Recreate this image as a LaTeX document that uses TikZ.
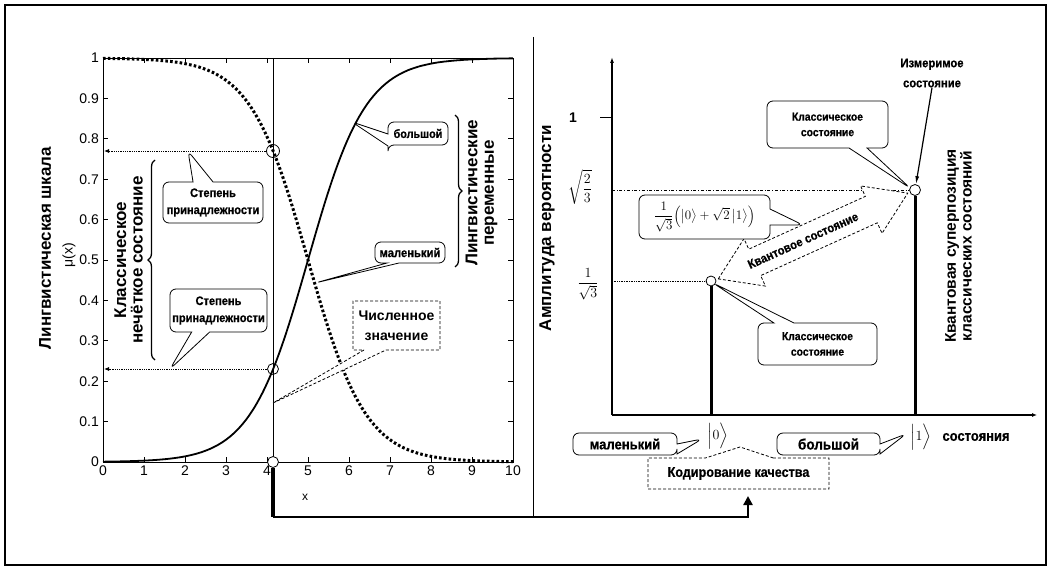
\RequirePackage{fix-cm}
\documentclass[tikz,border=0pt]{standalone}
\usepackage{amsmath}
\usepackage{fontspec}
\setmainfont{Liberation Serif}
\setsansfont{Liberation Sans}
\newfontfamily\narrowbold[FakeStretch=0.9,FakeBold=0.6]{Liberation Sans Bold}
\usetikzlibrary{shapes.callouts,decorations.pathreplacing,arrows.meta}
\begin{document}
\begin{tikzpicture}[x=1pt,y=-1pt,
  lbl/.style={font=\sffamily\fontsize{14}{14}\selectfont, inner sep=0pt},
  biglbl/.style={font=\sffamily\bfseries\fontsize{17}{16.5}\selectfont, align=center, inner sep=0pt},
  calltxt/.style={font=\narrowbold\fontsize{12.3}{17}\selectfont, align=center},
  callbox/.style={rectangle callout, draw, rounded corners=6pt, fill=white, calltxt, inner sep=0pt, line width=0.8pt},
  dcallbox/.style={rectangle callout, draw, dash pattern=on 3pt off 2pt, fill=white, calltxt, inner sep=0pt, line width=0.8pt},
  ptc/.style={circle, draw, inner sep=0pt, minimum size=11pt, line width=0.8pt},
  guide/.style={densely dotted, line width=0.8pt},
  frm/.style={line width=0.8pt},
  bar/.style={line width=3pt},
  axisline/.style={line width=1.8pt}
]
\useasboundingbox (0,0) rectangle (1051,567);
\draw[line width=2pt] (5,5) rectangle (1046,565);

% ---------------- left plot ----------------
\draw[frm] (103,58) rectangle (513,462);
\foreach \i in {0,...,10} {
  \draw[frm] ({103+41*\i},462) -- ++(0,-5);
  \draw[frm] ({103+41*\i},58) -- ++(0,5);
  \node[lbl, anchor=north] (xt\i) at ({103+41*\i},466) {\i};
}
\foreach \i/\t in {0/0,1/0.1,2/0.2,3/0.3,4/0.4,5/0.5,6/0.6,7/0.7,8/0.8,9/0.9,10/1} {
  \draw[frm] (103,{462-40.4*\i}) -- ++(5,0);
  \draw[frm] (513,{462-40.4*\i}) -- ++(-5,0);
  \node[lbl, anchor=east] (yt\i) at (99,{462-40.4*\i}) {\t};
}
\node[lbl, font=\sffamily\fontsize{12}{12}\selectfont] (xlab) at (305,497) {x};

\begin{scope}[shift={(103,462)}, x=41pt, y=404pt]
  \draw[line width=1.8pt] plot[domain=0:10, samples=150, smooth] (\x,{1/(1+exp(-1.42*(\x-5)))});
  \draw[line width=3pt, dash pattern=on 2.6pt off 2.2pt] plot[domain=0:10, samples=150, smooth] (\x,{1/(1+exp(1.42*(\x-5)))});
\end{scope}

\draw[line width=0.8pt] (273,58) -- (273,462);
\node[ptc, minimum width=9pt, minimum height=13pt] (c77) at (273,151) {};
\node[ptc] (c23) at (273,369) {};
\node[ptc, fill=white] (c0) at (273,462) {};
\coordinate (ax77) at (104,151);
\coordinate (ax23) at (104,369);
\draw[guide, -{Latex[length=5pt,width=4pt]}] (c77.west) -- (ax77);
\draw[guide, -{Latex[length=5pt,width=4pt]}] (c23.west) -- (ax23);

\node[biglbl, rotate=90] (yscale) at (45,248) {Лингвистическая шкала};
\node[lbl, rotate=90] (mu) at (69,255) {μ(x)};
\node[biglbl, rotate=90] (fuzzy) at (128.5,260) {Классическое\\нечёткое состояние};
\coordinate (brA) at (155,360);
\coordinate (brB) at (155,160);
\draw[line width=1.3pt, decorate, decoration={brace, amplitude=7pt}] (brA) -- (brB);

\node[callbox, minimum width=100pt, minimum height=41pt, callout absolute pointer={(188,151)}, callout pointer width=20pt] (deg1) at (213,202.5) {Степень\\принадлежности};
\node[callbox, minimum width=97pt, minimum height=43pt, callout absolute pointer={(170,369)}, callout pointer width=18pt] (deg2) at (218.5,310.5) {Степень\\принадлежности};

\node[callbox, font=\narrowbold\fontsize{12}{12}\selectfont, minimum width=60pt, minimum height=23pt, callout absolute pointer={(352,122)}, callout pointer width=12pt] (big1) at (418,133.5) {большой};
\node[callbox, font=\narrowbold\fontsize{12.5}{12.5}\selectfont, minimum width=70pt, minimum height=21pt, callout absolute pointer={(315,283)}, callout pointer width=12pt] (small1) at (410,252.5) {маленький};

\coordinate (brC) at (455,115);
\coordinate (brD) at (455,267);
\draw[line width=1.3pt, decorate, decoration={brace, amplitude=7pt}] (brC) -- (brD);
\node[biglbl, rotate=90] (lingvars) at (481.5,193) {Лингвистические\\переменные};

\node[dcallbox, font=\sffamily\bfseries\fontsize{14}{20}\selectfont, minimum width=87pt, minimum height=49pt, callout absolute pointer={(273,403)}, callout pointer width=22pt] (numval) at (396.5,325.5) {Численное\\значение};

% ---------------- separator ----------------
\draw[line width=1pt] (533,37) -- (533,518);

% ---------------- right plot ----------------
\coordinate (orig) at (612,415);
\coordinate (ytop) at (612,57);
\coordinate (xend) at (1037,415);
\draw[axisline, -{Latex[length=6pt,width=4pt]}] (orig) -- (ytop);
\draw[axisline, -{Latex[length=5pt,width=4pt]}] (orig) -- (xend);
\draw[line width=1pt] (600,118) -- (612,118);
\node[lbl, font=\sffamily\bfseries\fontsize{14}{14}\selectfont] (one) at (573,118) {1};
\node[inner sep=0pt, font=\fontsize{14}{14}\selectfont] (s23) at (580,187) {$\displaystyle\sqrt{\frac{2}{3}}$};
\node[inner sep=0pt, font=\fontsize{14}{14}\selectfont] (s13) at (588,284) {$\displaystyle\frac{1}{\sqrt{3}}$};

\node[ptc, minimum size=10pt] (c1) at (711,281) {};
\node[ptc, minimum size=11pt] (c2) at (915,190) {};
\coordinate (b1) at (711,415);
\coordinate (b2) at (915,415);
\draw[bar] (b1) -- (c1.south);
\draw[bar] (b2) -- (c2.south);
\coordinate (g23) at (612,190);
\coordinate (g13) at (612,281);
\draw[dash dot, line width=0.7pt] (g23) -- (c2.west);
\draw[guide, line width=0.7pt] (g13) -- (c1.west);

\node[biglbl, rotate=90] (ampl) at (547,228) {Амплитуда вероятности};
\node[biglbl, rotate=90, font=\sffamily\bfseries\fontsize{15.5}{14.5}\selectfont] (superpos) at (958.5,246) {Квантовая суперпозиция\\классических состояний};

% quantum double arrow
\begin{scope}[shift={(813,236)}, rotate=24.35]
  \draw[dash pattern=on 3pt off 2pt, line width=0.8pt, fill=white] (-104,0) -- (-64,-26) -- (-64,-14.5) -- (64,-14.5) -- (64,-26) -- (104,0) -- (64,26) -- (64,14.5) -- (-64,14.5) -- (-64,26) -- cycle;
\end{scope}
\node[calltxt, font=\narrowbold\fontsize{12.5}{13}\selectfont, rotate=24.35, inner sep=0pt] (qstate) at (803,240.5) {Квантовое состояние};

\node[callbox, font=\fontsize{13}{16}\selectfont, minimum width=131pt, minimum height=44pt, callout absolute pointer={(803,225)}, callout pointer width=16pt] (qform) at (704.5,217) {$\displaystyle\frac{1}{\sqrt{3}}\Bigl(\bigl|0\bigr\rangle+\sqrt{2}\,\bigl|1\bigr\rangle\Bigr)$};

\node[callbox, font=\narrowbold\fontsize{11.5}{15.5}\selectfont, minimum width=121pt, minimum height=47pt, callout absolute pointer={(910,188)}, callout pointer width=18pt] (cls1) at (827.5,124.5) {Классическое\\состояние};
\node[callbox, font=\narrowbold\fontsize{11.5}{15.5}\selectfont, minimum width=119pt, minimum height=42pt, callout absolute pointer={(713,283)}, callout pointer width=20pt] (cls2) at (817.5,344) {Классическое\\состояние};

\node[calltxt, font=\narrowbold\fontsize{12.5}{20}\selectfont, inner sep=0pt] (meas) at (932,73) {Измеримое\\состояние};
\draw[line width=1.2pt, -{Latex[length=8pt,width=4pt]}] (meas.south) -- (c2);

% bottom
\node[inner sep=0pt, font=\fontsize{14}{14}\selectfont] (ket0) at (718,436) {$\Bigl|0\Bigr\rangle$};
\node[inner sep=0pt, font=\fontsize{14}{14}\selectfont] (ket1) at (921,437) {$\Bigl|1\Bigr\rangle$};
\node[calltxt, font=\narrowbold\fontsize{14.4}{16}\selectfont, inner sep=0pt] (states) at (976,437) {состояния};
\node[callbox, font=\narrowbold\fontsize{14.5}{16}\selectfont, minimum width=104pt, minimum height=22pt, callout absolute pointer={(702,439)}, callout pointer width=10pt] (small2) at (625,444) {маленький};
\node[callbox, font=\narrowbold\fontsize{15}{16}\selectfont, minimum width=103pt, minimum height=22pt, callout absolute pointer={(906,434)}, callout pointer width=10pt] (big2) at (828.5,444) {большой};
\node[dcallbox, font=\narrowbold\fontsize{14}{16}\selectfont, minimum width=181pt, minimum height=31pt, callout absolute pointer={(740,447)}, callout pointer width=68pt] (code) at (738.5,473.5) {Кодирование качества};

% connector
\coordinate (bend) at (273,517);
\coordinate (codein) at (748,496);
\draw[line width=4pt] (c0.south) -- (bend);
\draw[line width=2.5pt, -{Triangle[length=9pt,width=9pt]}] (bend) -| (codein);
\end{tikzpicture}
\end{document}
